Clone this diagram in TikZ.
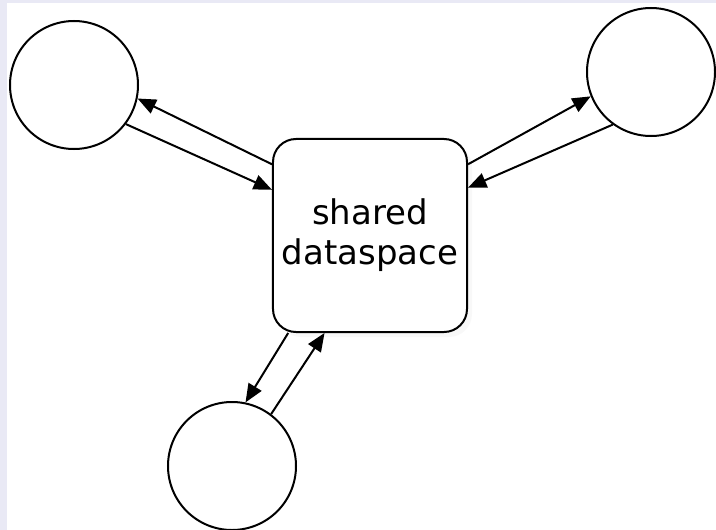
\documentclass[tikz,border=0pt]{standalone}
\usepackage{fontspec}
\setsansfont{DejaVu Sans}
\usetikzlibrary{arrows.meta,shadows}
\definecolor{pagebg}{RGB}{233,233,245}
\tikzset{
  proc/.style={circle,draw,line width=0.06cm,minimum size=3.84cm,inner sep=0pt,fill=white},
  dspace/.style={rectangle,draw,rounded corners=0.69cm,line width=0.06cm,
    minimum width=5.82cm,minimum height=5.79cm,fill=white,align=center,
    font=\sffamily\fontsize{29}{34}\selectfont,
    drop shadow={opacity=0.05,shadow xshift=0.15cm,shadow yshift=-0.15cm}},
  link/.style={line width=0.06cm,-{Triangle[length=0.55cm,width=0.45cm]}}
}
\begin{document}
\begin{tikzpicture}[x=0.03cm,y=-0.03cm]
    \fill[pagebg] (0,0) rectangle (716,530);
    \fill[white] (7,3) rectangle (716,530);
    \useasboundingbox (0,0) rectangle (716,530);
    \node[dspace] (space) at (370,235.5) {shared\\dataspace};
    \node[proc] (lft) at (74,85) {};
    \node[proc] (rgt) at (651,72) {};
    \node[proc] (btm) at (232,466) {};
    \draw[link] (space.144) -- (lft.-12);
    \draw[link] (lft.-37) -- (space.155);
    \draw[link] (space.36) -- (rgt.202);
    \draw[link] (rgt.234) -- (space.26);
    \draw[link] (space.-130) -- (btm.78);
    \draw[link] (btm.53) -- (space.-115);
\end{tikzpicture}
\end{document}
